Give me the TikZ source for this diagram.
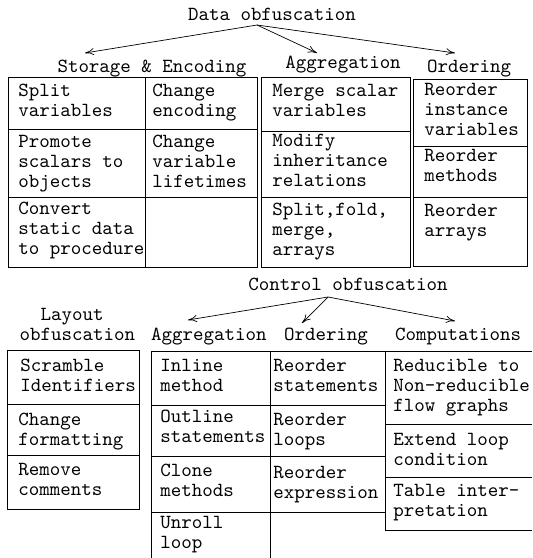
\documentclass[tikz,border=0pt]{standalone}
\usetikzlibrary{arrows.meta}
\begin{document}
\begin{tikzpicture}[x=0.5pt, y=-0.5pt,
  txt/.style={anchor=north west, align=left, inner sep=0pt, yshift=7pt,
    font=\ttfamily\fontsize{10}{10}\selectfont, execute at begin node=\strut},
  hd/.style={anchor=base, inner sep=0pt, font=\ttfamily\fontsize{10}{10}\selectfont},
  arr/.style={-{To[length=4.5pt,width=3.5pt]}, line width=0.35pt},
  box/.style={line width=0.5pt}]
\useasboundingbox (0,0) rectangle (532,558);

% Data obfuscation
\node[hd] (data) at (272,20) {Data obfuscation};
\node[hd] (storage) at (152,72) {Storage \& Encoding};
\node[hd] (dagg) at (343,68) {Aggregation};
\node[hd] (dord) at (469,72) {Ordering};
\coordinate (d0) at (257,25);
\coordinate (d1) at (85,53);
\coordinate (d2) at (317,53);
\coordinate (d3) at (455,53);
\draw[arr] (d0) -- (d1);
\draw[arr] (d0) -- (d2);
\draw[arr] (d0) -- (d3);

\draw[box] (8,77) rectangle (257,267);
\draw[box] (145,77) -- (145,267);
\draw[box] (8,129) -- (257,129) (8,197) -- (257,197);
\node[txt] (split) at (18,98) {Split\\variables};
\node[txt] (chenc) at (152,98) {Change\\encoding};
\node[txt] (promote) at (18,149) {Promote\\scalars to\\objects};
\node[txt] (chlife) at (152,149) {Change\\variable\\lifetimes};
\node[txt] (convert) at (18,216) {Convert\\static data\\to procedure};

\draw[box] (261,77) rectangle (410,267);
\draw[box] (261,131) -- (410,131) (261,197) -- (410,197);
\node[txt] (merge) at (272,98) {Merge scalar\\variables};
\node[txt] (modify) at (272,148) {Modify\\inheritance\\relations};
\node[txt] (fold) at (272,217) {Split,fold,\\merge,\\arrays};

\draw[box] (413,79) rectangle (527,266);
\draw[box] (413,146) -- (527,146) (413,197) -- (527,197);
\node[txt] (reinst) at (424,97) {Reorder\\instance\\variables};
\node[txt] (remeth) at (424,163) {Reorder\\methods};
\node[txt] (rearr) at (424,218) {Reorder\\arrays};

% Control and layout obfuscation
\node[hd] (control) at (348,290) {Control obfuscation};
\node[hd] (layout) at (72,320) {Layout};
\node[hd] (lobf) at (77.5,340) {obfuscation};
\node[hd] (cagg) at (209,340) {Aggregation};
\node[hd] (cord) at (326,340) {Ordering};
\node[hd] (comp) at (458,340) {Computations};
\coordinate (c0) at (328,297);
\coordinate (c1) at (188,320);
\coordinate (c2) at (302,323);
\coordinate (c3) at (455,321);
\draw[arr] (c0) -- (c1);
\draw[arr] (c0) -- (c2);
\draw[arr] (c0) -- (c3);

\draw[box] (7,350) rectangle (139,509);
\draw[box] (7,404) -- (139,404) (7,455) -- (139,455);
\node[txt] (scramble) at (20,373) {Scramble\\Identifiers};
\node[txt] (format) at (18,427) {Change\\formatting};
\node[txt] (remove) at (18,477) {Remove\\comments};

\draw[box] (151,558) -- (151,351) -- (532,351);
\draw[box] (270,351) -- (270,558);
\draw[box] (385,351) -- (385,530) -- (532,530);
\draw[box] (151,405) -- (385,405) (151,456) -- (385,456) (151,512) -- (385,512);
\draw[box] (385,424) -- (532,424) (385,477) -- (532,477);
\node[txt] (inline) at (160,373) {Inline\\method};
\node[txt] (outline) at (160,424) {Outline\\statements};
\node[txt] (clone) at (160,478) {Clone\\methods};
\node[txt] (unroll) at (160,530) {Unroll\\loop};
\node[txt] (restat) at (273,373) {Reorder\\statements};
\node[txt] (reloop) at (273,427) {Reorder\\loops};
\node[txt] (reexpr) at (273,480) {Reorder\\expression};
\node[txt] (reduc) at (393,373) {Reducible to\\Non-reducible\\flow graphs};
\node[txt] (extend) at (393,447) {Extend loop\\condition};
\node[txt] (table) at (393,498) {Table inter-\\pretation};
\end{tikzpicture}
\end{document}
